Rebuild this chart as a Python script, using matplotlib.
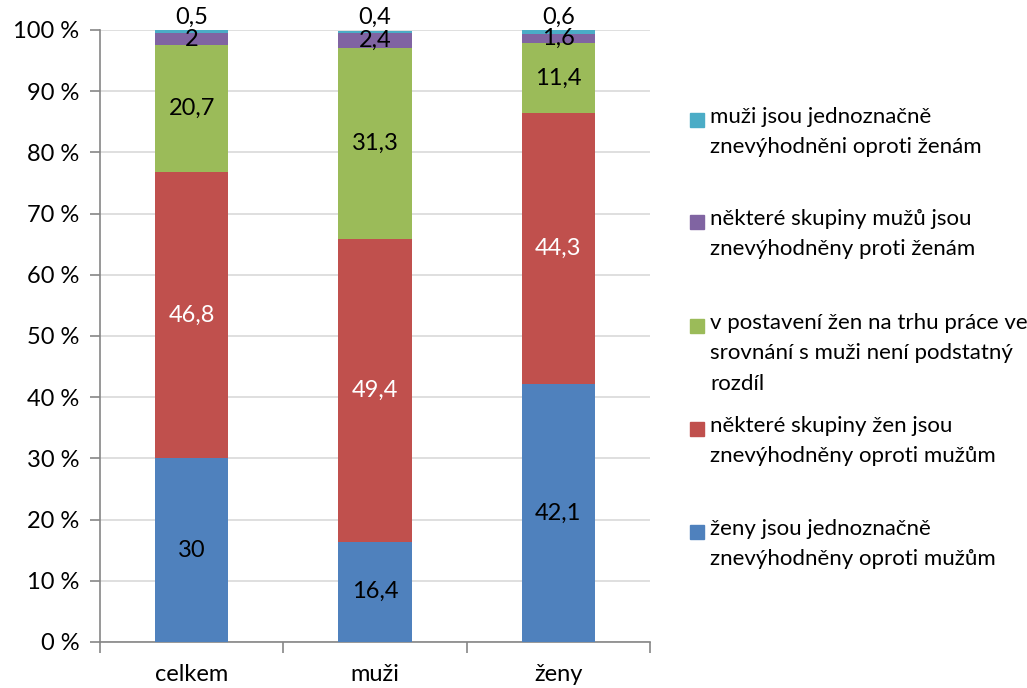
import matplotlib
matplotlib.use('Agg')
import matplotlib.pyplot as plt
import numpy as np

plt.rcParams['font.family'] = ['Lato', 'DejaVu Sans']

# kategorie a hodnoty (v %)
categories = ['celkem', 'muži', 'ženy']
zeny_jednoznacne = [30, 16.4, 42.1]
skupiny_zen = [46.8, 49.4, 44.3]
bez_rozdilu = [20.7, 31.3, 11.4]
skupiny_muzu = [2, 2.4, 1.6]
muzi_jednoznacne = [0.5, 0.4, 0.6]

series = [zeny_jednoznacne, skupiny_zen, bez_rozdilu, skupiny_muzu, muzi_jednoznacne]
names = ['ženy jsou jednoznačně\nznevýhodněny oproti mužům',
         'některé skupiny žen jsou\nznevýhodněny oproti mužům',
         'v postavení žen na trhu práce ve\nsrovnání s muži není podstatný\nrozdíl',
         'některé skupiny mužů jsou\nznevýhodněny proti ženám',
         'muži jsou jednoznačně\nznevýhodněni oproti ženám']
colors = ['#4F81BD', '#C0504D', '#9BBB59', '#8064A2', '#4BACC6']
label_colors = ['black', 'white', 'black', 'black', 'black']

fig = plt.figure(figsize=(10.27, 6.88), dpi=100)
ax = fig.add_axes([100 / 1027, 1 - 642 / 688, 550 / 1027, 612 / 688])

x = np.arange(len(categories))
bottom = np.zeros(len(categories))
for i, vals in enumerate(series):
    vals = np.array(vals, dtype=float)
    ax.bar(x, vals, 0.4, bottom=bottom, color=colors[i], zorder=3)
    for j, v in enumerate(vals):
        yc = bottom[j] + v / 2
        if i == 4:
            yc = 102.0
        ax.text(x[j], yc, ('%g' % v).replace('.', ','), ha='center', va='center',
                fontsize=17, color=label_colors[i], zorder=4, clip_on=False)
    bottom += vals

ax.set_xlim(-0.5, 2.5)
ax.set_ylim(0, 100)
ax.set_yticks(np.arange(0, 101, 10))
ax.set_yticklabels(['%d %%' % v for v in range(0, 101, 10)], fontsize=17)
ax.yaxis.grid(True, color='#d9d9d9', linewidth=1.2, zorder=0)
ax.set_xticks(x)
ax.set_xticklabels(categories, fontsize=17)
ax.set_xticks([-0.5, 0.5, 1.5, 2.5], minor=True)
ax.tick_params(axis='x', which='major', length=0, pad=16)
ax.tick_params(axis='x', which='minor', length=8, color='#868686', width=1.2)
ax.tick_params(axis='y', length=7, color='#868686', width=1.2, pad=8)
for s in ['top', 'right']:
    ax.spines[s].set_visible(False)
for s in ['left', 'bottom']:
    ax.spines[s].set_color('#868686')
    ax.spines[s].set_linewidth(1.2)

# legenda ručně
leg_y = [532, 429, 326, 222, 120]
for i in range(5):
    yc = 1 - leg_y[i] / 688
    fig.patches.append(plt.Rectangle((690 / 1027, yc - 7 / 688), 14 / 1027, 14 / 688,
                                     transform=fig.transFigure, color=colors[i]))
    fig.text(710 / 1027, yc + 13 / 688, names[i], ha='left', va='top',
             fontsize=16, linespacing=1.65, color='#000000')

fig.savefig('out.png', dpi=100)
